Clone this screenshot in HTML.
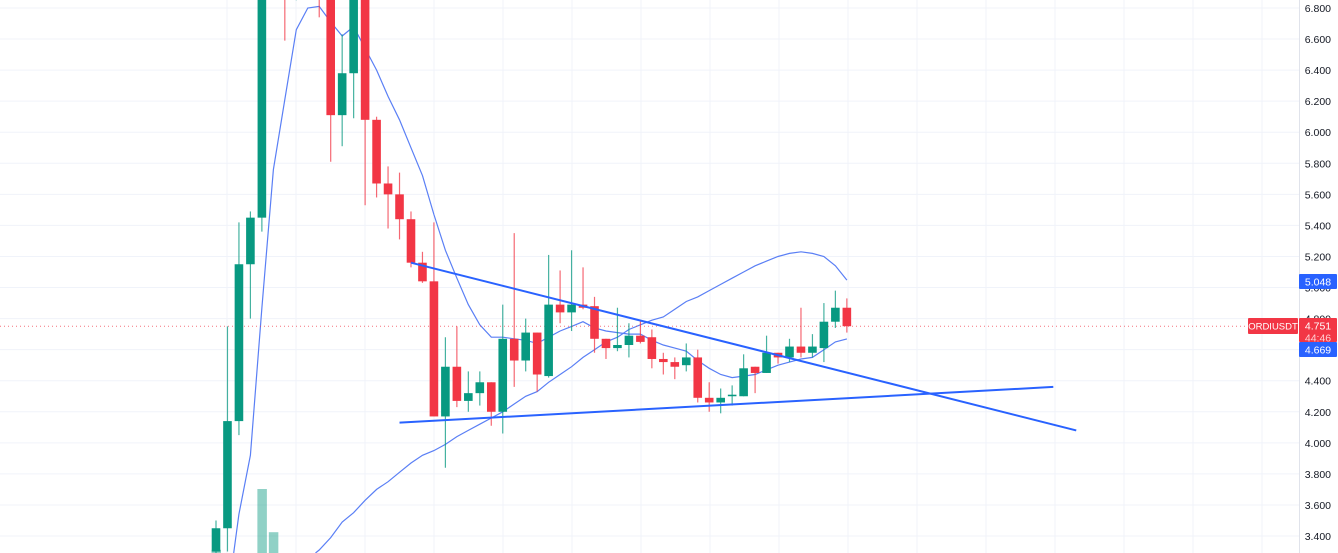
<!DOCTYPE html>
<html><head><meta charset="utf-8"><style>
html,body{margin:0;padding:0;background:#fff;overflow:hidden;width:1338px;height:553px;}
svg{display:block;overflow:hidden;font-family:"Liberation Sans",sans-serif;}
</style></head><body>
<svg id="chart" width="1338" height="553" viewBox="0 0 1338 553" xmlns="http://www.w3.org/2000/svg">
<g id="grid"></g>
<g id="vol"></g>
<g id="bands"></g>
<g id="candles"></g>
<g id="trend"></g>
<g id="axis"></g>
</svg>
<script>
const opens  = [3.30,3.45,4.14,5.15,5.45,7.20,7.50,7.00,7.10,7.20,7.00,6.11,6.38,7.10,6.08,5.67,5.60,5.44,5.16,5.04,4.17,4.49,4.27,4.32,4.39,4.20,4.67,4.53,4.71,4.43,4.89,4.84,4.89,4.88,4.67,4.61,4.63,4.69,4.68,4.54,4.52,4.50,4.55,4.29,4.26,4.30,4.30,4.49,4.45,4.58,4.55,4.62,4.58,4.61,4.78,4.87];
const closes = [3.45,4.14,5.15,5.45,7.20,7.50,7.00,7.30,7.20,7.00,6.11,6.38,7.00,6.08,5.67,5.60,5.44,5.16,5.04,4.17,4.49,4.27,4.32,4.39,4.20,4.67,4.53,4.71,4.44,4.89,4.84,4.89,4.87,4.67,4.61,4.63,4.69,4.65,4.54,4.52,4.49,4.55,4.29,4.26,4.29,4.31,4.48,4.45,4.58,4.55,4.62,4.58,4.62,4.78,4.87,4.751];
const highs  = [3.50,4.75,5.42,5.49,7.40,7.70,7.60,7.40,7.30,7.30,7.10,6.63,7.10,7.20,6.10,5.78,5.74,5.49,5.23,5.42,4.68,4.75,4.46,4.46,4.39,4.89,5.35,4.80,4.71,5.21,5.11,5.24,5.13,4.94,4.67,4.87,4.77,4.79,4.73,4.58,4.55,4.64,4.60,4.39,4.35,4.37,4.57,4.49,4.69,4.58,4.67,4.87,4.70,4.90,4.98,4.93];
const lows   = [3.20,3.30,4.05,4.80,5.36,7.00,6.59,6.85,6.90,6.74,5.81,5.91,6.09,5.53,5.58,5.38,5.31,5.13,5.03,4.17,3.84,4.23,4.20,4.24,4.11,4.06,4.36,4.46,4.33,4.42,4.77,4.72,4.86,4.58,4.54,4.59,4.55,4.64,4.48,4.44,4.41,4.46,4.26,4.20,4.19,4.24,4.30,4.32,4.45,4.51,4.52,4.55,4.55,4.52,4.74,4.71];
const maFast = [null,2.99,3.54,3.92,4.87,5.76,6.21,6.66,6.80,6.81,6.71,6.62,6.68,6.54,6.40,6.23,6.08,5.90,5.72,5.47,5.24,5.06,4.89,4.76,4.68,4.68,4.67,4.66,4.64,4.68,4.72,4.75,4.78,4.74,4.72,4.71,4.70,4.70,4.66,4.63,4.61,4.59,4.53,4.48,4.44,4.42,4.43,4.44,4.47,4.50,4.52,4.54,4.55,4.60,4.65,4.669];
const bandUpper = [null,null,null,null,null,null,null,null,3.25,3.31,3.39,3.49,3.55,3.63,3.70,3.75,3.81,3.87,3.92,3.95,3.99,4.04,4.08,4.12,4.16,4.20,4.25,4.30,4.33,4.39,4.44,4.49,4.55,4.60,4.65,4.68,4.73,4.76,4.79,4.81,4.86,4.91,4.94,4.98,5.02,5.06,5.10,5.14,5.17,5.20,5.22,5.23,5.22,5.20,5.14,5.048];
const volumes = [0.02,0,0,0,0.4,0.13];
const priceTicks = ["6.800","6.600","6.400","6.200","6.000","5.800","5.600","5.400","5.200","5.000","4.800","4.400","4.200","4.000","3.800","3.600","3.400"];
const trendDown = [[17, 5.16],[75, 4.08]];
const trendUp = [[16, 4.13],[73, 4.36]];

const NS="http://www.w3.org/2000/svg";
const X0=216, DX=11.47, YMIN=0, YMAX=553;
const xOf=i=>X0+DX*i;
const yOf=p=>8+(6.8-p)*155.3;
const clampY=y=>Math.max(YMIN,Math.min(YMAX,y));
function mk(tag,attrs,parent){const e=document.createElementNS(NS,tag);for(const k in attrs)e.setAttribute(k,attrs[k]);parent.appendChild(e);return e;}

const grid=document.getElementById('grid');
for(let gx=227;gx<1299;gx+=69){const l=mk('line',{x1:gx,x2:gx,y1:0,y2:553,stroke:'#f0f3fa','stroke-width':1},grid);

}
for(let k=0;k<18;k++){const p=6.8-0.2*k;const gy=yOf(p);const l=mk('line',{x1:0,x2:1299,y1:gy,y2:gy,stroke:'#f0f3fa','stroke-width':1},grid);

}

const vol=document.getElementById('vol');
volumes.forEach((v,i)=>{if(!v)return;const h=v*160;const r=mk('rect',{x:xOf(i)-4.5,y:553-h,width:9.5,height:h,fill:'rgba(8,153,129,0.45)'},vol);

});

const bands=document.getElementById('bands');
function series(arr,name){
  const pts=[];arr.forEach((v,i)=>{if(v!=null)pts.push([xOf(i),yOf(v)]);});
  let d='',pen=false;
  for(let k=0;k<pts.length-1;k++){
    let [x1,y1]=pts[k],[x2,y2]=pts[k+1];
    const cut=(xa,ya,xb,yb,yl)=>[xa+(xb-xa)*(yl-ya)/(yb-ya),yl];
    if((y1>YMAX&&y2>YMAX)||(y1<YMIN&&y2<YMIN)){pen=false;continue;}
    let s=[x1,y1],e=[x2,y2];
    if(y1>YMAX)s=cut(x1,y1,x2,y2,YMAX); if(y1<YMIN)s=cut(x1,y1,x2,y2,YMIN);
    if(y2>YMAX)e=cut(x1,y1,x2,y2,YMAX); if(y2<YMIN)e=cut(x1,y1,x2,y2,YMIN);
    if(!pen||s[0]!==x1||s[1]!==y1)d+='M'+s[0].toFixed(1)+' '+s[1].toFixed(1);
    d+='L'+e[0].toFixed(1)+' '+e[1].toFixed(1);
    pen=(e[0]===x2&&e[1]===y2);
  }
  const p=mk('path',{d:d,fill:'none',stroke:'#5a7ff5','stroke-width':1.2},bands);
  
  
}
series(maFast,'moving-average-line');
series(bandUpper,'band-line');

const cur=mk('line',{x1:0,x2:1299,y1:yOf(closes[closes.length-1]),y2:yOf(closes[closes.length-1]),stroke:'#f23645','stroke-width':1,'stroke-dasharray':'1 3',opacity:0.7},bands);



const cg=document.getElementById('candles');
opens.forEach((o,i)=>{const c=closes[i];const up=c>=o;const col=up?'#089981':'#f23645';const x=xOf(i);
const wy1=clampY(yOf(highs[i])),wy2=clampY(yOf(lows[i]));
if(wy2>wy1){const w=mk('line',{x1:x,x2:x,y1:wy1,y2:wy2,stroke:col,'stroke-width':1.2,opacity:0.75},cg);

}
const rt=yOf(Math.max(o,c)),rb=yOf(Math.min(o,c));
if(rb>YMIN && rt<YMAX){const top=clampY(rt),bot=clampY(rb);
const b=mk('rect',{x:x-4.3,y:top,width:8.6,height:Math.max(1.5,bot-top),fill:col},cg);

}});

const tg=document.getElementById('trend');
[trendDown,trendUp].forEach((t,k)=>{const l=mk('line',{x1:xOf(t[0][0]),y1:yOf(t[0][1]),x2:xOf(t[1][0]),y2:yOf(t[1][1]),stroke:'#2962ff','stroke-width':2},tg);

});

const ax=document.getElementById('axis');
const bl=mk('line',{x1:1299.5,x2:1299.5,y1:0,y2:553,stroke:'#e0e3eb','stroke-width':1},ax);


priceTicks.forEach(t=>{const tx=mk('text',{x:1331,y:yOf(parseFloat(t))+4,'font-size':10.5,'text-anchor':'end',fill:'#131722'},ax);tx.textContent=t;

});
function badge(y,h,col,lines,name,x,w,fs){const g=mk('g',{},ax);


mk('rect',{x:x,y:y,width:w,height:h,fill:col,rx:1},g);
lines.forEach((s,j)=>{const t=mk('text',{x:x+w/2,y:y+11.5+j*12,'font-size':fs,'text-anchor':'middle',fill:j?'#ffd0d4':'#fff'},g);t.textContent=s;});}
badge(274,15,'#2962ff',['5.048'],'band-value-badge',1299,38,10.5);
badge(318,24,'#f23645',['4.751','44:46'],'last-price-badge',1299,38,10.5);
badge(342,15,'#2962ff',['4.669'],'ma-value-badge',1299,38,10.5);
badge(318,16,'#f23645',['ORDIUSDT'],'symbol-badge',1248,50,9.5);
</script>
</body></html>
